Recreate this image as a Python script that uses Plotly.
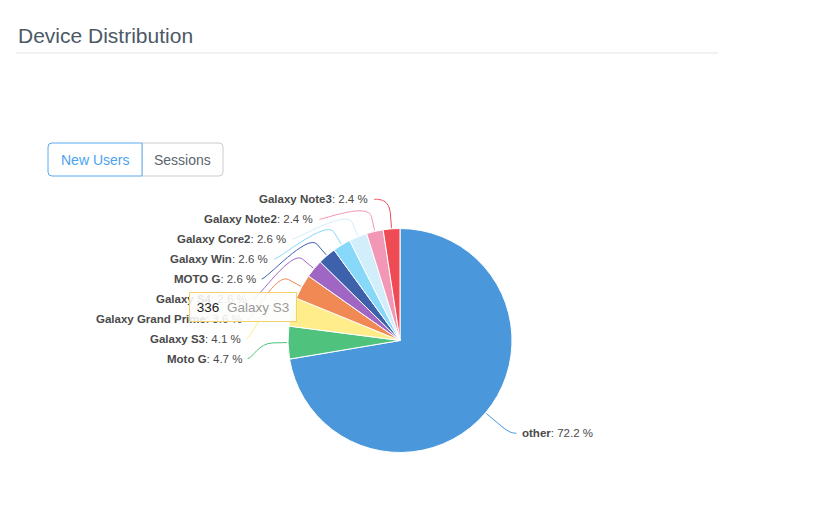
import math
import plotly.graph_objects as go

# ---------------- data ----------------
title_text = "Device Distribution"
button_labels = ["New Users", "Sessions"]
devices = ["other", "Moto G", "Galaxy S3", "Galaxy Grand Prime", "Galaxy S4",
           "MOTO G", "Galaxy Win", "Galaxy Core2", "Galaxy Note2", "Galaxy Note3"]
shares = [72.2, 4.7, 4.1, 3.6, 2.6, 2.6, 2.6, 2.6, 2.4, 2.4]
slice_colors = ["#4a98db", "#4fc37e", "#ffec8a", "#f08953", "#a066c4",
                "#3d61ab", "#88d8f9", "#d2eefb", "#f397b6", "#ef4b55"]
tooltip_value = 336
tooltip_device = "Galaxy S3"

# ---------------- layout constants (pixels) ----------------
W, H = 824, 507
CX, CY, R = 400.0, 340.5, 112.0
LABEL_DIST = 30.0
CONN_OFF = 15.0
ELL_A, ELL_B = 157.5, 143.8
LEFT_BOTTOM_Y, LEFT_STEP = 358.5, 19.9
LABEL_FONT = dict(family="Liberation Sans, Arial, sans-serif", size=11.5, color="#4a4a4a")

fig = go.Figure()

# invisible cartesian axes in pixel space for shapes / annotations
fig.add_trace(go.Scatter(x=[], y=[], showlegend=False, hoverinfo="skip"))

fig.add_trace(go.Pie(
    labels=devices,
    values=shares,
    sort=False,
    direction="clockwise",
    rotation=0,
    textinfo="none",
    hoverinfo="skip",
    showlegend=False,
    marker=dict(colors=slice_colors, line=dict(color="#ffffff", width=1)),
    domain=dict(x=[(CX - R) / W, (CX + R) / W],
                y=[1 - (CY + R) / H, 1 - (CY - R) / H]),
))

shapes = []
annotations = []

# title + underline
annotations.append(dict(x=16, y=35, xref="x", yref="y", xanchor="left", yanchor="middle",
                        text=title_text, showarrow=False,
                        font=dict(family="Liberation Sans, Arial, sans-serif", size=21, color="#4c5966")))
shapes.append(dict(type="line", xref="x", yref="y", x0=16, x1=718, y0=53, y1=53,
                   line=dict(color="#e4e4e4", width=1)))

# buttons
def rrect(x0, y0, x1, y1, rl, rr):
    return (f"M {x0+rl},{y0} L {x1-rr},{y0} Q {x1},{y0} {x1},{y0+rr} "
            f"L {x1},{y1-rr} Q {x1},{y1} {x1-rr},{y1} L {x0+rl},{y1} "
            f"Q {x0},{y1} {x0},{y1-rl} L {x0},{y0+rl} Q {x0},{y0} {x0+rl},{y0} Z")

bx = [48, 142, 223]
by0, by1 = 143, 176
shapes.append(dict(type="path", xref="x", yref="y", path=rrect(bx[1], by0, bx[2], by1, 0, 4),
                   line=dict(color="#cccccc", width=1), fillcolor="#ffffff", layer="above"))
shapes.append(dict(type="path", xref="x", yref="y", path=rrect(bx[0], by0, bx[1], by1, 4, 0),
                   line=dict(color="#5aaaf0", width=1), fillcolor="#ffffff", layer="above"))
btn_colors = ["#4aa3ef", "#5b6670"]
for i, lab in enumerate(button_labels):
    annotations.append(dict(x=(bx[i] + bx[i + 1]) / 2, y=(by0 + by1) / 2, xref="x", yref="y",
                            xanchor="center", yanchor="middle", text=lab, showarrow=False,
                            font=dict(family="Liberation Sans, Arial, sans-serif", size=14,
                                      color=btn_colors[i])))

# data labels with soft connectors
total = sum(shares)
cum = 0.0
left_idx = 0
for name, v, col in zip(devices, shares, slice_colors):
    theta = (cum + v / 2) / total * 2 * math.pi
    cum += v
    ux, uy = math.sin(theta), -math.cos(theta)
    left = ux < 0
    if left:
        ly = LEFT_BOTTOM_Y - left_idx * LEFT_STEP
        left_idx += 1
    else:
        ly = CY + (R + LABEL_DIST) * uy + 1
    dy = ly - CY
    dx = ELL_A * math.sqrt(max(0.0, 1 - (dy / ELL_B) ** 2))
    sgn = -1 if left else 1
    tx = CX + sgn * dx
    sx, c1x = tx - sgn * 4, tx - sgn * 9
    c2x, c2y = CX + (R + 2 * CONN_OFF) * ux, CY + (R + 2 * CONN_OFF) * uy
    p2x, p2y = CX + (R + CONN_OFF) * ux, CY + (R + CONN_OFF) * uy
    p4x, p4y = CX + (R + 1) * ux, CY + (R + 1) * uy
    shapes.append(dict(type="path", xref="x", yref="y", layer="above",
                       path=f"M {sx:.1f},{ly:.1f} C {c1x:.1f},{ly:.1f} {c2x:.1f},{c2y:.1f} "
                            f"{p2x:.1f},{p2y:.1f} L {p4x:.1f},{p4y:.1f}",
                       line=dict(color=col, width=1)))
    annotations.append(dict(x=tx, y=ly, xref="x", yref="y",
                            xanchor="right" if left else "left", yanchor="middle",
                            text=f"<b>{name}</b>: {v} %", showarrow=False, font=LABEL_FONT))

# tooltip (drawn last, on top)
annotations.append(dict(x=189, y=292, xref="x", yref="y", xanchor="left", yanchor="top",
                        text=f"<span style='color:#222222'>{tooltip_value}</span>&nbsp;&nbsp;"
                             f"<span style='color:#9a9a9a'>{tooltip_device}</span>",
                        showarrow=False, align="center", width=100, height=22, borderpad=3,
                        bgcolor="rgba(253,253,250,0.88)", bordercolor="#f2d26e", borderwidth=1,
                        font=dict(family="Liberation Sans, Arial, sans-serif", size=13.5)))

fig.update_layout(
    width=W, height=H, autosize=False,
    margin=dict(l=0, r=0, t=0, b=0),
    paper_bgcolor="#ffffff", plot_bgcolor="rgba(0,0,0,0)",
    xaxis=dict(range=[0, W], visible=False, fixedrange=True, domain=[0, 1]),
    yaxis=dict(range=[H, 0], visible=False, fixedrange=True, domain=[0, 1]),
    shapes=shapes, annotations=annotations,
    showlegend=False,
)

fig.write_html("out.html")
